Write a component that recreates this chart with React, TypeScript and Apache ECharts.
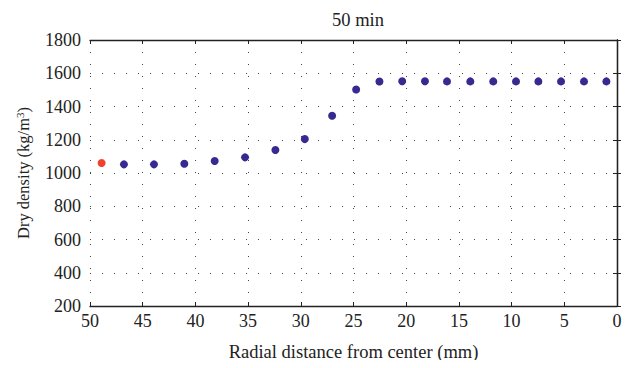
import React, { useEffect, useRef } from "react";
import * as echarts from "echarts";

const radialBlue = [46.78, 43.93, 41.05, 38.17, 35.29, 32.41, 29.62, 27.03, 24.75, 22.54, 20.38, 18.22, 16.13, 13.92, 11.74, 9.58, 7.46, 5.31, 3.13, 1.01];
const densityBlue = [1052, 1052, 1056, 1072, 1094, 1138, 1204, 1344, 1502, 1550, 1552, 1552, 1551, 1551, 1551, 1551, 1551, 1551, 1551, 1551];
const radialRed = [48.9];
const densityRed = [1060];

const FONT = "Liberation Serif, Times New Roman, serif";

export default function App() {
  const ref = useRef<HTMLDivElement>(null);
  useEffect(() => {
    if (!ref.current) return;
    const chart = echarts.init(ref.current, undefined, { renderer: "svg" });
    const gridLine = { show: true, lineStyle: { color: "#444", type: [1, 11] as any, width: 1 } };
    const axisLine = { show: true, lineStyle: { color: "#222", width: 1.3 } };
    const tick = { show: true, inside: true, length: 4, lineStyle: { color: "#222" } };
    chart.setOption({
      animation: false,
      backgroundColor: "#fff",
      textStyle: { fontFamily: FONT },
      title: {
        text: "50 min",
        left: 353,
        top: 5,
        textAlign: "center",
        textStyle: { fontFamily: FONT, fontSize: 18.5, fontWeight: "normal", color: "#222" },
      },
      grid: { left: 90, right: 17, top: 40, bottom: 62 },
      xAxis: [
        {
          type: "value",
          inverse: true,
          min: 0,
          max: 50,
          interval: 5,
          name: "Radial distance from center (mm)",
          nameLocation: "middle",
          nameGap: 36,
          nameTextStyle: { fontFamily: FONT, fontSize: 18.5, color: "#222" },
          axisLine,
          axisTick: tick,
          axisLabel: { fontFamily: FONT, fontSize: 18, color: "#222", margin: 6 },
          splitLine: gridLine,
        },
        {
          type: "value",
          position: "top",
          inverse: true,
          min: 0,
          max: 50,
          interval: 5,
          axisLine,
          axisTick: tick,
          axisLabel: { show: false },
          splitLine: { show: false },
        },
      ],
      yAxis: [
        {
          type: "value",
          min: 200,
          max: 1800,
          interval: 200,
          name: "{a|Dry density (kg/m}{s|3}{a|)}",
          nameLocation: "middle",
          nameGap: 57,
          nameTextStyle: {
            rich: {
              a: { fontFamily: FONT, fontSize: 16.5, color: "#222" },
              s: { fontFamily: FONT, fontSize: 11, color: "#222", verticalAlign: "top", padding: [0, 0, 8, 0] },
            },
          },
          axisLine,
          axisTick: tick,
          axisLabel: { fontFamily: FONT, fontSize: 18, color: "#222", margin: 9, formatter: (v: number) => String(v) },
          splitLine: gridLine,
        },
        {
          type: "value",
          position: "right",
          min: 200,
          max: 1800,
          interval: 200,
          axisLine,
          axisTick: tick,
          axisLabel: { show: false },
          splitLine: { show: false },
        },
      ],
      series: [
        {
          type: "scatter",
          symbolSize: 8,
          itemStyle: { color: "#36298f", opacity: 1 },
          data: radialBlue.map((r, i) => [r, densityBlue[i]]),
        },
        {
          type: "scatter",
          symbolSize: 8,
          itemStyle: { color: "#f2402a", opacity: 1 },
          data: radialRed.map((r, i) => [r, densityRed[i]]),
        },
      ],
    });
    return () => chart.dispose();
  }, []);
  return <div ref={ref} style={{ width: 634, height: 368, margin: -8 }} />;
}
